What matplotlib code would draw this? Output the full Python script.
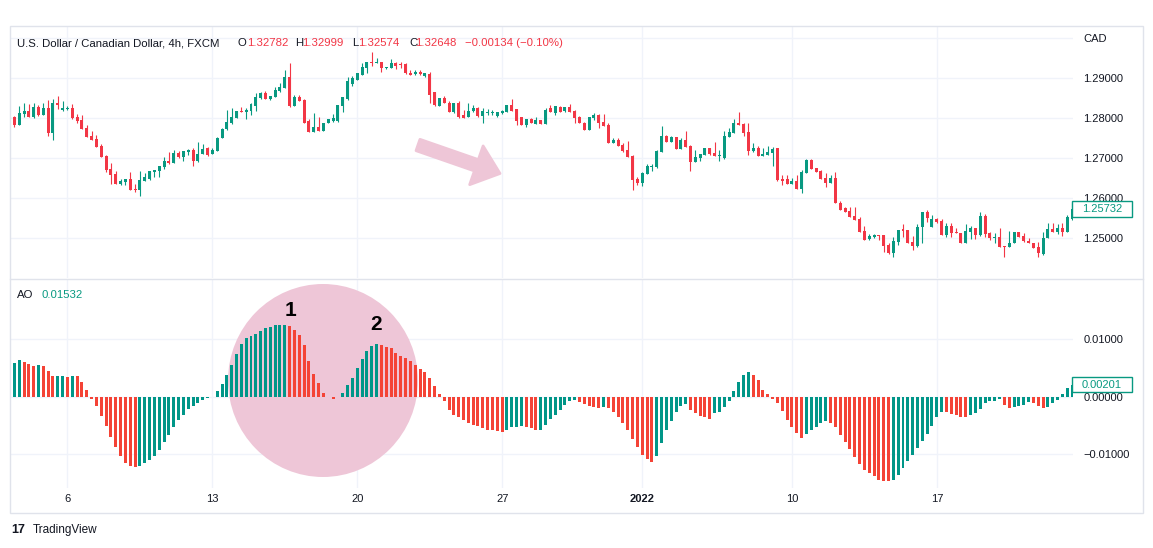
import numpy as np
import matplotlib.pyplot as plt
from matplotlib.patches import Rectangle, Ellipse, Polygon
from matplotlib.lines import Line2D

plt.rcParams['font.family'] = ['Liberation Sans', 'DejaVu Sans']

# USD/CAD 4h candles
opens = [
    1.2801, 1.28042, 1.27833, 1.28108, 1.28183, 1.28025, 1.28275, 1.28083, 1.2825, 1.27642,
    1.28392, 1.28208, 1.28225, 1.28258, 1.28042, 1.27958, 1.27767, 1.27558, 1.27483, 1.27308,
    1.27067, 1.26733, 1.26608, 1.26358, 1.26417, 1.26483, 1.26242, 1.26208, 1.26442, 1.26483,
    1.26667, 1.26692, 1.26792, 1.26933, 1.26892, 1.27125, 1.27042, 1.27167, 1.27208, 1.26942,
    1.271, 1.2725, 1.271, 1.27192, 1.275, 1.27725, 1.27892, 1.28017, 1.28192, 1.28167,
    1.28183, 1.28308, 1.28517, 1.28642, 1.28483, 1.28542, 1.28683, 1.28767, 1.29042, 1.28308,
    1.28542, 1.28458, 1.27933, 1.27667, 1.27775, 1.27692, 1.27875, 1.27942, 1.27942, 1.28317,
    1.28483, 1.28858, 1.28958, 1.29083, 1.29267, 1.29417, 1.29375, 1.294, 1.2925, 1.2925,
    1.29392, 1.2935, 1.2935, 1.29142, 1.291, 1.29167, 1.29058, 1.291, 1.28667, 1.28317,
    1.285, 1.28392, 1.28167, 1.28375, 1.28083, 1.28025, 1.28183, 1.2825, 1.28067, 1.28142,
    1.28142, 1.28058, 1.28125, 1.28167, 1.28333, 1.28225, 1.28025, 1.27833, 1.27983, 1.27858,
    1.27967, 1.27858, 1.2825, 1.28142, 1.28292, 1.28192, 1.28292, 1.28192, 1.28042, 1.27892,
    1.27708, 1.28017, 1.28083, 1.27917, 1.27833, 1.27375, 1.27458, 1.27333, 1.27208, 1.27058,
    1.26483, 1.26392, 1.26608, 1.26792, 1.26775, 1.27167, 1.27558, 1.274, 1.27525, 1.27233,
    1.27458, 1.27317, 1.26917, 1.27, 1.27083, 1.2725, 1.27142, 1.27058, 1.27, 1.27542,
    1.27642, 1.27875, 1.2785, 1.2765, 1.27192, 1.2725, 1.27067, 1.27083, 1.27142, 1.2725,
    1.26483, 1.26483, 1.26358, 1.26433, 1.26233, 1.26642, 1.26958, 1.26767, 1.26683, 1.26517,
    1.26392, 1.26517, 1.25892, 1.2575, 1.25683, 1.25558, 1.25483, 1.25183, 1.24975, 1.25025,
    1.25092, 1.25083, 1.24833, 1.24625, 1.24917, 1.25225, 1.25208, 1.24917, 1.24808, 1.25275,
    1.2565, 1.25292, 1.25483, 1.25433, 1.25083, 1.25308, 1.25142, 1.25142, 1.24892, 1.25167,
    1.2525, 1.25083, 1.25558, 1.25125, 1.25, 1.25042, 1.24808, 1.24792, 1.24875, 1.2515,
    1.25058, 1.24933, 1.24892, 1.24792, 1.24608, 1.25, 1.25233, 1.25167, 1.2525, 1.25167, 1.25483,
]
highs = [
    1.2804, 1.28058, 1.28308, 1.28392, 1.28358, 1.28392, 1.28333, 1.28375, 1.28458, 1.28475,
    1.28558, 1.28433, 1.28308, 1.28358, 1.28117, 1.28083, 1.27833, 1.27683, 1.27583, 1.27358,
    1.27083, 1.26875, 1.26683, 1.26483, 1.26483, 1.26667, 1.26358, 1.26683, 1.26625, 1.26683,
    1.26708, 1.26808, 1.27025, 1.27158, 1.272, 1.27192, 1.27183, 1.27233, 1.2725, 1.27408,
    1.2735, 1.27275, 1.2725, 1.27542, 1.2775, 1.28208, 1.2825, 1.28183, 1.28275, 1.2825,
    1.28375, 1.28625, 1.28667, 1.28683, 1.28558, 1.28792, 1.28875, 1.29208, 1.29392, 1.28583,
    1.28583, 1.28475, 1.27975, 1.28142, 1.28025, 1.27892, 1.27983, 1.28108, 1.28333, 1.28525,
    1.29025, 1.29058, 1.29125, 1.29375, 1.29417, 1.2965, 1.295, 1.294, 1.29292, 1.29483,
    1.29417, 1.29417, 1.29375, 1.29208, 1.29208, 1.29208, 1.29125, 1.29167, 1.28667, 1.285,
    1.28558, 1.28433, 1.28375, 1.28433, 1.28208, 1.28375, 1.28333, 1.28292, 1.2825, 1.28233,
    1.28208, 1.28167, 1.28208, 1.28333, 1.28475, 1.28225, 1.28025, 1.27983, 1.28, 1.28025,
    1.27967, 1.2825, 1.28333, 1.28317, 1.28317, 1.28292, 1.28358, 1.28208, 1.28058, 1.27917,
    1.28042, 1.28125, 1.28108, 1.28108, 1.27892, 1.27517, 1.27517, 1.27392, 1.27433, 1.27083,
    1.26542, 1.26667, 1.26858, 1.26858, 1.27208, 1.27808, 1.27583, 1.27558, 1.27542, 1.275,
    1.27683, 1.27333, 1.27208, 1.27108, 1.2725, 1.2725, 1.27417, 1.27208, 1.27683, 1.2775,
    1.27975, 1.28167, 1.27875, 1.27892, 1.27375, 1.27308, 1.2725, 1.27308, 1.27292, 1.27267,
    1.26583, 1.26583, 1.26517, 1.26583, 1.26708, 1.26983, 1.26983, 1.26767, 1.26708, 1.26625,
    1.26583, 1.26667, 1.25942, 1.25775, 1.25775, 1.25775, 1.25542, 1.25308, 1.25108, 1.25108,
    1.25092, 1.25083, 1.24892, 1.25042, 1.25208, 1.2535, 1.25208, 1.25058, 1.25358, 1.2565,
    1.25708, 1.25583, 1.25517, 1.25483, 1.25375, 1.25375, 1.25267, 1.25142, 1.2535, 1.25308,
    1.2525, 1.2565, 1.25608, 1.25167, 1.25125, 1.25267, 1.24808, 1.25183, 1.2515, 1.2515,
    1.25142, 1.25, 1.24892, 1.24917, 1.25167, 1.25375, 1.25375, 1.25358, 1.25375, 1.25583, 1.25875,
]
lows = [
    1.28, 1.27792, 1.27833, 1.28042, 1.28042, 1.28008, 1.28067, 1.28083, 1.27558, 1.27458,
    1.28233, 1.28183, 1.28208, 1.27975, 1.27875, 1.27733, 1.27542, 1.27458, 1.27292, 1.27042,
    1.26667, 1.26358, 1.26358, 1.26333, 1.26333, 1.26208, 1.26167, 1.26067, 1.26442, 1.26458,
    1.26542, 1.26542, 1.26725, 1.2685, 1.26892, 1.27017, 1.26942, 1.27083, 1.26817, 1.26917,
    1.271, 1.27067, 1.271, 1.27192, 1.275, 1.27708, 1.27858, 1.28017, 1.28167, 1.27983,
    1.28083, 1.28183, 1.28483, 1.28483, 1.28458, 1.28542, 1.28667, 1.28767, 1.28292, 1.28308,
    1.28442, 1.27875, 1.27667, 1.27667, 1.27692, 1.27692, 1.27875, 1.27917, 1.27917, 1.28167,
    1.28458, 1.28808, 1.28958, 1.29083, 1.29125, 1.29308, 1.29375, 1.29167, 1.29225, 1.2925,
    1.29225, 1.29267, 1.29108, 1.29083, 1.29083, 1.29083, 1.29042, 1.28375, 1.28317, 1.28317,
    1.28375, 1.28167, 1.2814, 1.28, 1.28017, 1.28025, 1.28167, 1.28042, 1.27875, 1.28083,
    1.28083, 1.28042, 1.28108, 1.28167, 1.28183, 1.27833, 1.27833, 1.27792, 1.27875, 1.27858,
    1.27858, 1.27858, 1.28167, 1.28083, 1.28167, 1.28167, 1.28167, 1.27892, 1.27875, 1.27708,
    1.27708, 1.27958, 1.2775, 1.27808, 1.27375, 1.27375, 1.27317, 1.27167, 1.27042, 1.26208,
    1.26333, 1.26308, 1.26608, 1.26692, 1.2675, 1.27167, 1.27417, 1.274, 1.27233, 1.27233,
    1.27292, 1.26692, 1.26917, 1.26942, 1.27083, 1.27083, 1.27058, 1.26942, 1.26975, 1.27525,
    1.27642, 1.27833, 1.27558, 1.27083, 1.27167, 1.27067, 1.27067, 1.27083, 1.26808, 1.26442,
    1.26333, 1.26358, 1.26358, 1.26233, 1.26125, 1.26642, 1.26725, 1.2665, 1.26483, 1.26292,
    1.26392, 1.25875, 1.25708, 1.25667, 1.25525, 1.25458, 1.2515, 1.24958, 1.24958, 1.25,
    1.24958, 1.24667, 1.24608, 1.24542, 1.24833, 1.25042, 1.24892, 1.24708, 1.24792, 1.24875,
    1.25417, 1.25292, 1.25375, 1.25083, 1.25025, 1.25025, 1.25125, 1.24892, 1.24875, 1.24983,
    1.24975, 1.25067, 1.25042, 1.24958, 1.24892, 1.24792, 1.24525, 1.24792, 1.24875, 1.25042,
    1.24917, 1.24875, 1.24767, 1.24542, 1.24583, 1.25, 1.25167, 1.251, 1.25067, 1.25167, 1.25458,
]
closes = [
    1.2803, 1.27833, 1.28142, 1.28183, 1.28042, 1.28275, 1.28083, 1.2825, 1.27642, 1.28375,
    1.28333, 1.28258, 1.28258, 1.28017, 1.27933, 1.27733, 1.27542, 1.27458, 1.27292, 1.27042,
    1.26708, 1.26583, 1.26358, 1.26433, 1.26483, 1.26208, 1.26208, 1.26458, 1.26525, 1.26683,
    1.26708, 1.26808, 1.26933, 1.26892, 1.27125, 1.27025, 1.27183, 1.27208, 1.26942, 1.271,
    1.27233, 1.27083, 1.27208, 1.27517, 1.27733, 1.279, 1.28025, 1.28183, 1.28167, 1.28208,
    1.2835, 1.28542, 1.28642, 1.28483, 1.28558, 1.28708, 1.28775, 1.29042, 1.28308, 1.28525,
    1.28442, 1.27892, 1.27667, 1.27775, 1.27692, 1.27892, 1.27983, 1.28, 1.28333, 1.28525,
    1.28942, 1.29, 1.29125, 1.29292, 1.29417, 1.29392, 1.29417, 1.2925, 1.29292, 1.29375,
    1.29308, 1.29325, 1.29125, 1.29083, 1.29167, 1.291, 1.29125, 1.28583, 1.28333, 1.285,
    1.28375, 1.28167, 1.28375, 1.28042, 1.28017, 1.28192, 1.2825, 1.28067, 1.28183, 1.28167,
    1.28167, 1.2815, 1.28192, 1.28333, 1.28183, 1.27942, 1.27833, 1.27983, 1.27875, 1.27958,
    1.27858, 1.28208, 1.28167, 1.28317, 1.28167, 1.28292, 1.28167, 1.28017, 1.27875, 1.27708,
    1.28042, 1.28083, 1.27892, 1.27808, 1.27375, 1.27458, 1.27317, 1.27183, 1.27042, 1.26458,
    1.26392, 1.26642, 1.26808, 1.26817, 1.27183, 1.27558, 1.27417, 1.27525, 1.27233, 1.27458,
    1.27292, 1.26917, 1.27025, 1.27108, 1.2725, 1.27108, 1.27058, 1.27083, 1.27558, 1.2765,
    1.27875, 1.27833, 1.27642, 1.27192, 1.2725, 1.27067, 1.27108, 1.27167, 1.27233, 1.26458,
    1.26442, 1.26358, 1.26433, 1.26233, 1.2665, 1.26958, 1.26725, 1.2665, 1.26483, 1.26392,
    1.26517, 1.25875, 1.25708, 1.25667, 1.25542, 1.25458, 1.25167, 1.24958, 1.25058, 1.25083,
    1.25067, 1.24808, 1.24625, 1.24942, 1.25208, 1.25183, 1.24892, 1.24808, 1.25292, 1.2565,
    1.255, 1.25483, 1.25417, 1.25083, 1.25308, 1.25125, 1.25125, 1.24892, 1.25183, 1.2525,
    1.25083, 1.25558, 1.251, 1.25, 1.25042, 1.24792, 1.24792, 1.24875, 1.2515, 1.25042,
    1.24933, 1.24875, 1.24767, 1.24625, 1.25, 1.25233, 1.25167, 1.2525, 1.25167, 1.25525, 1.25733,
]

# Awesome Oscillator histogram, one value per candle
ao = [
    0.0055, 0.00586, 0.00632, 0.00603, 0.00563, 0.00529, 0.00546, 0.00529, 0.00448, 0.0035,
    0.00356, 0.00362, 0.00339, 0.00356, 0.0035, 0.00247, 0.00115, -0.0004, -0.00172, -0.00333,
    -0.00517, -0.00707, -0.00879, -0.01034, -0.01149, -0.012, -0.0121, -0.01205, -0.01149, -0.01092,
    -0.01034, -0.00931, -0.00793, -0.00667, -0.00534, -0.00414, -0.00316, -0.00213, -0.00172, -0.00115,
    -0.00069, -0.00029, -0.0001, 0.00098, 0.00213, 0.00374, 0.00546, 0.00736, 0.00908, 0.01006,
    0.01046, 0.0108, 0.01132, 0.01178, 0.01195, 0.0123, 0.01236, 0.0124, 0.01218, 0.01149,
    0.01063, 0.00891, 0.00615, 0.00385, 0.0023, 0.00057, -0.00017, -0.0004, -0.00017, 0.00057,
    0.00201, 0.00316, 0.00489, 0.00649, 0.00787, 0.00874, 0.00908, 0.00891, 0.00851, 0.00833,
    0.00759, 0.00707, 0.00661, 0.00621, 0.00546, 0.00471, 0.00431, 0.00316, 0.00184, 0.00046,
    -0.00086, -0.0023, -0.00316, -0.00362, -0.00414, -0.0046, -0.005, -0.00517, -0.00546, -0.00575,
    -0.0058, -0.00603, -0.00621, -0.00575, -0.0053, -0.0052, -0.0051, -0.0052, -0.00546, -0.00586,
    -0.00575, -0.005, -0.00391, -0.00316, -0.0023, -0.00144, -0.00072, -0.00068, -0.00087, -0.00134,
    -0.00157, -0.00174, -0.00192, -0.00174, -0.00192, -0.00262, -0.0036, -0.00465, -0.00581, -0.00738,
    -0.00872, -0.01017, -0.01081, -0.01134, -0.01029, -0.00802, -0.00581, -0.00424, -0.00262, -0.00157,
    -0.00134, -0.00233, -0.00279, -0.00331, -0.00349, -0.0039, -0.00291, -0.00262, -0.00174, -0.0007,
    0.00087, 0.00244, 0.00378, 0.00419, 0.00366, 0.00279, 0.00116, 0.00047, -0.0004, -0.00105,
    -0.00244, -0.004, -0.0052, -0.00628, -0.00709, -0.00651, -0.00581, -0.00523, -0.00453, -0.00419,
    -0.00453, -0.00523, -0.00669, -0.00785, -0.00913, -0.01047, -0.01174, -0.01262, -0.01326, -0.01366,
    -0.01436, -0.01453, -0.01465, -0.01436, -0.01349, -0.01238, -0.01116, -0.01017, -0.0089, -0.00773,
    -0.00651, -0.00512, -0.00349, -0.00262, -0.0027, -0.00302, -0.0032, -0.00349, -0.00355, -0.0032,
    -0.00279, -0.00215, -0.00105, -0.00076, -0.0007, -0.0004, -0.00145, -0.00192, -0.0018, -0.00157,
    -0.00145, -0.00099, -0.00105, -0.00157, -0.00192, -0.00174, -0.00105, -0.00058, 0.00047, 0.00145, 0.00201,
]

date_pos = [12, 42, 72, 102, 131, 162, 192]
date_labels = ['6', '13', '20', '27', '2022', '10', '17']
price_ticks = [1.25, 1.26, 1.27, 1.28, 1.29, 1.30]
price_labels = ['1.25000', '1.26000', '1.27000', '1.28000', '1.29000', 'CAD']
ao_ticks = [-0.01, 0.0, 0.01]
ao_labels = ['\u22120.01000', '0.00000', '0.01000']

UP, DOWN = '#089981', '#F23645'
AO_UP, AO_DOWN = '#009688', '#F44336'
TXT = '#131722'
GRID = '#F0F3FA'
BORDER = '#E0E3EB'
PINK = '#EEC6D7'

W, H = 1153, 548
def fx(x):
    return x / W
def fy(y):
    return 1 - y / H

fig = plt.figure(figsize=(W / 100, H / 100), dpi=100)
fig.patch.set_facecolor('white')

ax1 = fig.add_axes([fx(10), fy(278), fx(1073) - fx(10), fy(26) - fy(278)])
ax2 = fig.add_axes([fx(10), fy(488), fx(1073) - fx(10), fy(279) - fy(488)])

o = np.array(opens); h = np.array(highs); l = np.array(lows); c = np.array(closes)
x = np.arange(len(o))
cols = np.where(c >= o, UP, DOWN)

# candles
ax1.vlines(x, l, h, colors=cols, linewidth=0.8, zorder=2)
body = np.maximum(np.abs(c - o), 0.00022)
ax1.bar(x, body, bottom=np.minimum(o, c), width=0.62, color=cols, linewidth=0, zorder=3)

# AO histogram, green when rising
a = np.array(ao)
rising = np.diff(a, prepend=a[0]) >= 0
ax2.bar(x, a, width=0.62, color=np.where(rising, AO_UP, AO_DOWN), linewidth=0, zorder=3)

for ax in (ax1, ax2):
    ax.set_xlim(0.1, 220.2)
    for s in ax.spines.values():
        s.set_visible(False)
    for p in date_pos:
        ax.axvline(p, color=GRID, lw=1, zorder=0)
    ax.yaxis.tick_right()
    ax.tick_params(axis='y', length=0, pad=7.5, labelsize=8, labelcolor=TXT)

ax1.set_ylim(1.24007, 1.30308)
for v in price_ticks:
    ax1.axhline(v, color=GRID, lw=1, zorder=0)
ax1.set_yticks(price_ticks, price_labels)
ax1.set_xticks([])

ax2.set_ylim(-0.015803, 0.020294)
for v in ao_ticks:
    ax2.axhline(v, color=GRID, lw=1, zorder=0)
ax2.set_yticks(ao_ticks, ao_labels)
ax2.set_xticks(date_pos, date_labels)
ax2.tick_params(axis='x', length=0, pad=4, labelsize=8, labelcolor=TXT)
for t in ax2.get_xticklabels():
    if t.get_text() == '2022':
        t.set_fontweight('bold')

# pink highlight circle behind the AO peaks
ax2.add_patch(Ellipse((fx(323), fy(380.5)), 190 / W, 193 / H, transform=fig.transFigure,
                      facecolor=PINK, edgecolor='none', zorder=1))
fig.text(fx(290), fy(311), '1', fontsize=15, fontweight='bold', color='black', ha='center', va='center')
fig.text(fx(376), fy(324), '2', fontsize=15, fontweight='bold', color='black', ha='center', va='center')

# down arrow in the price pane
tail = np.array([418.0, 145.0]); tip = np.array([500.0, 173.5])
u = (tip - tail) / np.linalg.norm(tip - tail)
nv = np.array([-u[1], u[0]])
base = tip - 25 * u
pts = [tail + 6 * nv, base + 6 * nv, base + 20.5 * nv, tip, base - 20.5 * nv, base - 6 * nv, tail - 6 * nv]
fig.add_artist(Polygon([(fx(px), fy(py)) for px, py in pts], closed=True, transform=fig.transFigure,
                       facecolor=PINK, edgecolor=PINK, lw=2, joinstyle='round'))

# frame and pane separator
fig.add_artist(Rectangle((fx(10), fy(513)), fx(1143) - fx(10), fy(26) - fy(513),
                         transform=fig.transFigure, fill=False, edgecolor=BORDER, lw=1))
fig.add_artist(Line2D([fx(10), fx(1143)], [fy(278.5), fy(278.5)], transform=fig.transFigure,
                      color=BORDER, lw=1))

# header legend
hy = fy(43)
fig.text(fx(17), hy, 'U.S. Dollar / Canadian Dollar, 4h, FXCM', fontsize=8.2, color=TXT, va='center')
for xs, s, col in [(238, 'O', TXT), (247, '1.32782', DOWN), (295, 'H', TXT), (302.5, '1.32999', DOWN),
                   (352, 'L', TXT), (358, '1.32574', DOWN), (409, 'C', TXT), (415.5, '1.32648', DOWN),
                   (465, '\u22120.00134 (\u22120.10%)', DOWN)]:
    fig.text(fx(xs), hy, s, fontsize=8.2, color=col, va='center')

fig.text(fx(17), fy(295), 'AO', fontsize=8.2, color=TXT, va='center')
fig.text(fx(41), fy(295), '0.01532', fontsize=8.2, color=UP, va='center')

# last value labels on the right scale
for (y0, y1), s in [((201, 217), '1.25732'), ((377, 392), '0.00201')]:
    fig.add_artist(Rectangle((fx(1072), fy(y1)), fx(1132) - fx(1072), fy(y0) - fy(y1),
                             transform=fig.transFigure, facecolor='white', edgecolor=UP, lw=1, zorder=5))
    fig.text(fx(1102), fy((y0 + y1) / 2), s, fontsize=8, color=UP, ha='center', va='center', zorder=6)

# footer logo
fig.text(fx(11), fy(530), '17', fontsize=9, fontweight='bold', color=TXT, va='center')
fig.text(fx(33), fy(530), 'TradingView', fontsize=8.5, color=TXT, va='center')

fig.savefig('out.png', dpi=100, facecolor='white')
